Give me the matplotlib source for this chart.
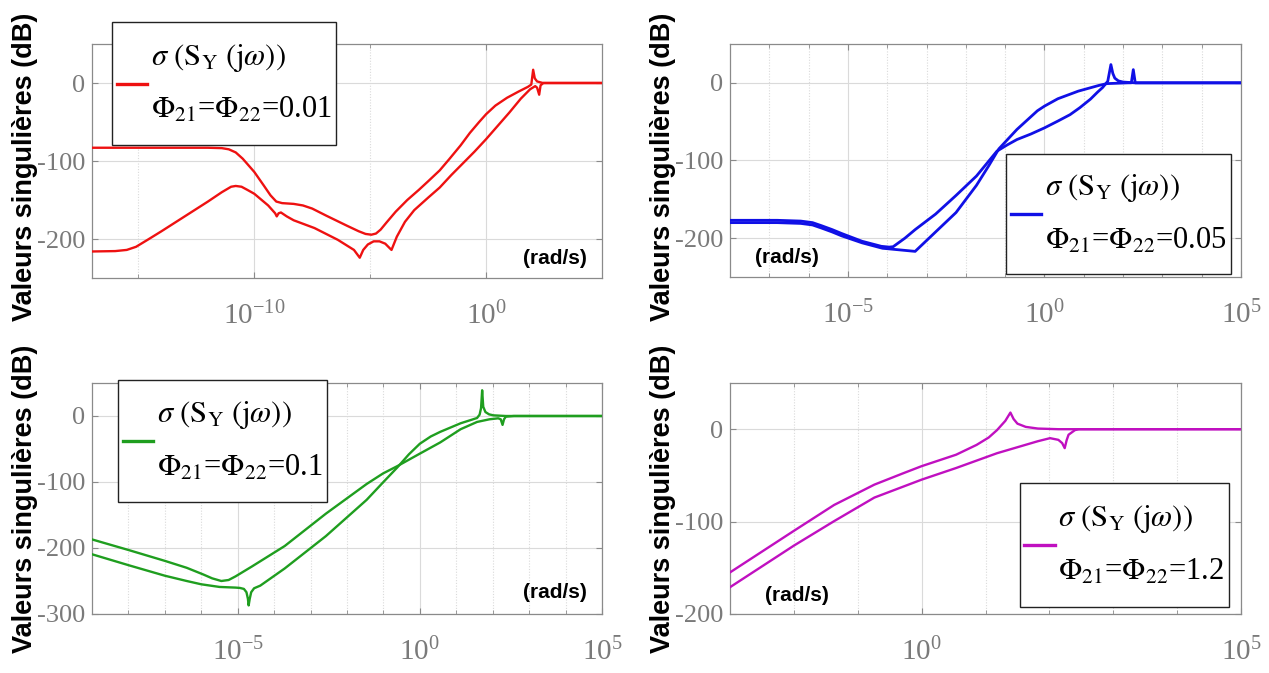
import numpy as np
import matplotlib
matplotlib.use('Agg')
import matplotlib.pyplot as plt
from matplotlib.path import Path

plt.rcParams['mathtext.fontset'] = 'stix'
plt.rcParams['font.family'] = ['Liberation Serif', 'DejaVu Serif']

# ---------------- data (x given as log10 of frequency in rad/s, y in dB) ----------------
# Panel 1 : Phi21 = Phi22 = 0.01 (red)
p1_logw_a = [-17, -12, -11.4, -11.1, -10.8, -10.5, -10.0, -9.6, -9.3, -9.05, -8.8, -8.3, -7.9, -7.5,
             -6.9, -6.0, -5.5, -5.2, -4.95, -4.75, -4.55, -4.3, -3.9, -3.4, -2.9, -2.5, -2.0, -1.6,
             -1.1, -0.7, -0.3, 0.0, 0.4, 0.9, 1.4, 1.8, 1.95, 2.03, 2.1, 2.2, 2.45, 5]
p1_db_a = [-83, -83, -83.5, -85, -89, -97, -114, -131, -144, -152, -154, -155, -157, -161,
           -170, -183, -190, -193.5, -194.5, -193, -188, -179, -165, -150, -137, -126, -112, -98,
           -80, -64, -50, -40, -29, -19, -11, -5, -2, 17, 6, 2, 0, 0]
p1_logw_b = [-17, -16, -15.5, -15.1, -14.6, -14, -13, -12, -11.4, -11.0, -10.8, -10.55, -10.3, -10.0,
             -9.4, -9.1, -9.03, -8.95, -8.85, -8.6, -8.3, -7.4, -6.4, -5.7, -5.45, -5.3, -5.1, -4.85,
             -4.6, -4.35, -4.15, -4.08, -3.85, -3.5, -3.1, -2.5, -2.0, -1.5, -0.9, -0.5, 0.0, 0.5,
             1.0, 1.5, 1.9, 2.12, 2.2, 2.29, 2.35, 2.47, 5]
p1_db_b = [-216, -215.5, -214, -210, -201, -190, -171, -152, -140, -133, -132, -133, -137, -142,
           -157, -167, -171, -167, -166, -171, -176, -186, -201, -214, -224, -214, -207, -203,
           -203, -206, -212, -214, -197, -178, -163, -147, -134, -118, -100, -88, -72, -55,
           -38, -20, -8, -4, -6, -15, -3, 0, 0]

# Panel 2 : Phi21 = Phi22 = 0.05 (blue)
p2_logw_a = [-8, -6.8, -6.2, -5.9, -5.67, -5.4, -5.16, -4.64, -4.15, -3.95, -3.85, -3.55, -3.29,
             -2.77, -2.25, -1.73, -1.21, -0.95, -0.7, -0.35, 0.0, 0.35, 0.65, 0.9, 1.17, 1.35, 1.48,
             1.61, 1.69, 1.74, 1.79, 1.88, 2.0, 2.3, 5]
p2_db_a = [-177, -177, -178, -180, -184, -189, -194, -204, -210.5, -211.5, -211, -200, -189,
           -169, -145, -120, -88, -80, -73, -66, -58, -49, -41, -32, -21, -12, -6,
           2, 23.5, 12, 6, 2.5, 1, 0, 0]
p2_logw_b = [-8, -6.8, -6.2, -5.9, -5.67, -5.4, -5.16, -4.64, -4.12, -3.91, -3.29, -2.77, -2.25,
             -1.73, -1.42, -1.16, -0.7, -0.18, 0.0, 0.34, 0.86, 1.38, 1.59, 2.13, 2.21, 2.26, 2.31, 5]
p2_db_b = [-180, -180, -181, -183, -187, -192, -197, -206, -213, -214, -217, -192, -167,
           -132, -107, -85, -60, -36, -30, -20.5, -10.7, -3.4, -1, 0, 0, 17, 0, 0]

# Panel 3 : Phi21 = Phi22 = 0.1 (green)
p3_logw_a = [-9, -8, -7, -6.4, -5.95, -5.7, -5.45, -5.25, -5.06, -4.61, -3.71, -2.58, -1.46, -1.01,
             -0.62, 0.0, 0.56, 1.12, 1.57, 1.91, 2.15, 2.22, 2.27, 2.31, 2.36, 2.58, 5]
p3_db_a = [-187, -203, -219.5, -230, -240, -246, -250, -248.5, -243, -228, -197, -148, -103, -87,
           -76, -57, -40, -20, -9, -5, -3.5, -5, -13.5, -5, -1, 0, 0]
p3_logw_b = [-9, -8, -7, -6.4, -6.0, -5.5, -5.06, -4.94, -4.83, -4.76, -4.72, -4.70, -4.67, -4.63,
             -4.55, -4.38, -3.71, -2.58, -1.46, -1.0, -0.62, -0.3, 0.0, 0.3, 0.56, 1.12, 1.46, 1.57,
             1.64, 1.68, 1.71, 1.74, 1.8, 1.9, 2.02, 2.36, 5]
p3_db_b = [-209.5, -226, -242, -250, -255, -259, -260, -260.5, -262, -267, -277, -287, -277, -267,
           -261, -257, -231, -182, -127, -100, -78, -58, -42, -31, -24, -11, -5, -3,
           2, 12, 39, 14, 6, 2.5, 1, 0, 0]

# Panel 4 : Phi21 = Phi22 = 1.2 (magenta)
p4_logw_a = [-3, -2, -1.37, -0.74, -0.3, 0.0, 0.54, 0.86, 1.05, 1.18, 1.31, 1.39, 1.44, 1.5,
             1.63, 1.82, 2.14, 5]
p4_db_a = [-155, -110, -82, -60, -48, -40, -27.6, -17, -9, -1, 9, 18, 11, 6, 2.5, 0.7, 0, 0]
p4_logw_b = [-3, -2, -1.37, -0.74, 0.0, 0.54, 1.18, 1.82, 2.01, 2.14, 2.2, 2.24, 2.27, 2.3, 2.4,
             2.46, 5]
p4_db_b = [-171, -126, -99.5, -74, -54.6, -42, -26, -13, -9.7, -11.5, -15, -20.5, -12, -6, -1, 0, 0]

phi_values = ['0.01', '0.05', '0.1', '1.2']
colors = ['#ee1111', '#1010e6', '#1f9e1f', '#c010c0']
line_widths = [1.7, 2.0, 1.7, 1.7]
xlims_exp = [(-17, 5), (-8, 5), (-9, 5), (-3, 5)]
ylims = [(-250, 50), (-250, 50), (-300, 50), (-200, 50)]
yticks = [[-200, -100, 0], [-200, -100, 0], [-300, -200, -100, 0], [-200, -100, 0]]
xlabel_exps = [[-10, 0], [-5, 0, 5], [-5, 0, 5], [0, 5]]
xgrid_exps = [[-15, -5], list(range(-7, 5)), list(range(-8, 5)), list(range(-2, 5))]
curves = [(p1_logw_a, p1_db_a, p1_logw_b, p1_db_b),
          (p2_logw_a, p2_db_a, p2_logw_b, p2_db_b),
          (p3_logw_a, p3_db_a, p3_logw_b, p3_db_b),
          (p4_logw_a, p4_db_a, p4_logw_b, p4_db_b)]

# ---------------- layout ----------------
W, H = 1269, 673
fig = plt.figure(figsize=(W / 100, H / 100), dpi=100)

def add_ax(x0, y0, x1, y1):
    return fig.add_axes([x0 / W, 1 - y1 / H, (x1 - x0) / W, (y1 - y0) / H])

boxes = [(92, 44, 602, 278), (730, 44, 1241, 277), (92, 383, 602, 614), (730, 383, 1241, 614)]
# legend frame: (x_px, y_px) of the anchored corner, loc, target frame height
legend_frames = [((112, 22), 'upper left', 123), ((1231, 274), 'lower right', 120),
                 ((118, 380), 'upper left', 122), ((1229, 607), 'lower right', 124)]
radsec_pos = [(0.908, 0.085), (0.112, 0.085), (0.908, 0.091), (0.131, 0.082)]
ylabel_y = [0.475, 0.475, 0.5, 0.5]

tick_gray = '#7a7a7a'
spine_gray = '#8a8a8a'


def make_box(ypad):
    def box(x0, y0, width, height, mutation_size):
        x1, y1 = x0 + width, y0 + height
        yb, yt = y0 - ypad, y1 + ypad
        return Path([(x0, yb), (x1, yb), (x1, yt), (x0, yt), (x0, yb)], closed=True)
    return box


legends = []
for i, ax in enumerate([add_ax(*b) for b in boxes]):
    la, da, lb, db = curves[i]
    h, = ax.plot(10.0 ** np.array(la), da, color=colors[i], lw=line_widths[i], zorder=3)
    ax.plot(10.0 ** np.array(lb), db, color=colors[i], lw=line_widths[i], zorder=3)
    ax.set_xscale('log')
    ax.set_xlim(10.0 ** xlims_exp[i][0], 10.0 ** xlims_exp[i][1])
    ax.set_ylim(*ylims[i])

    ax.set_xticks([10.0 ** e for e in xlabel_exps[i]],
                  labels=[r'$\mathdefault{10^{%d}}$' % e for e in xlabel_exps[i]])
    ax.set_xticks([10.0 ** e for e in xgrid_exps[i]], minor=True)
    ax.set_xticklabels([], minor=True)
    ax.set_yticks(yticks[i], labels=[str(v) for v in yticks[i]])

    ax.grid(True, which='major', color='#dadada', lw=0.8, zorder=0)
    ax.grid(True, which='minor', axis='x', color='#dadada', lw=0.8, ls=(0, (1, 1.5)), zorder=0)
    ax.set_axisbelow(True)

    ax.tick_params(which='both', direction='in', top=True, right=True, color=spine_gray)
    ax.tick_params(which='major', length=4)
    ax.tick_params(which='minor', length=3)
    ax.tick_params(axis='x', which='major', pad=17, labelsize=21, labelcolor=tick_gray)
    ax.tick_params(axis='y', which='major', pad=5, labelsize=19, labelcolor=tick_gray)
    for sp in ax.spines.values():
        sp.set_color(spine_gray)
        sp.set_linewidth(0.9)

    ax.set_ylabel('Valeurs singulières (dB)', fontfamily='Liberation Sans',
                  fontweight='bold', fontsize=19.5, color='black')
    ax.yaxis.set_label_coords(-0.106, ylabel_y[i])

    ax.text(radsec_pos[i][0], radsec_pos[i][1], '(rad/s)', transform=ax.transAxes,
            ha='center', va='center', fontfamily='Liberation Sans', fontweight='bold',
            fontsize=15, color='black', zorder=4)

    label = (r'$\sigma\ (\mathrm{S}_{\mathrm{Y}}\ (\mathrm{j}\omega))$' + '\n'
             + r'$\Phi_{21}$=$\Phi_{22}$=' + phi_values[i])
    (ax_px, ay_px), loc, _ = legend_frames[i]
    leg = ax.legend([h], [label], loc=loc, bbox_to_anchor=(ax_px / W, 1 - ay_px / H),
                    bbox_transform=fig.transFigure, fontsize=22, frameon=True,
                    fancybox=False, edgecolor='#222222', framealpha=1, borderpad=0.15,
                    handlelength=1.0, handletextpad=0.12, borderaxespad=0)
    leg.get_frame().set_linewidth(1.0)
    leg.set_zorder(6)
    for ln in leg.get_lines():
        ln.set_linewidth(2.4)
    for t in leg.get_texts():
        t.set_linespacing(2.0)
    legends.append(leg)

# extra vertical padding of the legend frames so that their height matches the reference
fig.canvas.draw()
for leg, ((ax_px, ay_px), loc, target_h) in zip(legends, legend_frames):
    inner_h = leg.get_window_extent().height
    ypad = max(0.0, (target_h - inner_h) / 2.0)
    leg.get_frame().set_boxstyle(make_box(ypad))
    if loc == 'upper left':
        leg.set_bbox_to_anchor((ax_px / W, 1 - (ay_px + ypad) / H), transform=fig.transFigure)
    else:
        leg.set_bbox_to_anchor((ax_px / W, 1 - (ay_px - ypad) / H), transform=fig.transFigure)

fig.savefig('out.png', dpi=100)
